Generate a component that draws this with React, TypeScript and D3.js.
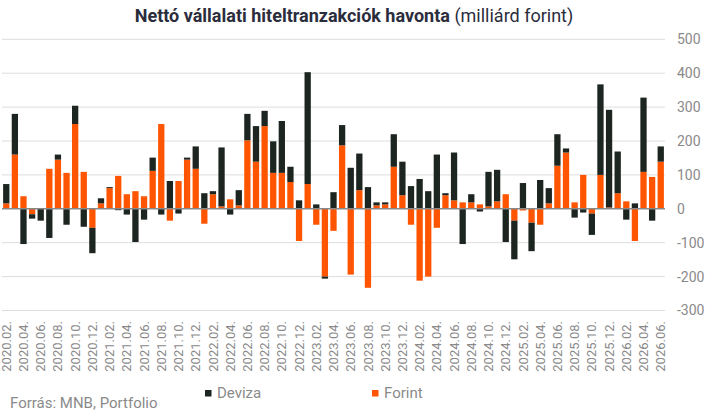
import React, { useEffect, useRef } from 'react';
import * as d3 from 'd3';

// havi adatok 2020.02 - 2026.06 (milliárd forint)
const months: string[] = [];
for (let y = 2020; y <= 2026; y++) {
  for (let m = 1; m <= 12; m++) {
    if ((y === 2020 && m < 2) || (y === 2026 && m > 6)) continue;
    months.push(`${y}.${String(m).padStart(2, '0')}.`);
  }
}

const forint = [
  16, 160, 37, -16, 0, 118, 145, 106, 250, 109, -56, 16, 61, 97, 43, 52, 37, 112, 250, -35,
  82, 145, 118, -44, 43, 7, 28, 10, 202, 139, 244, 106, 106, 79, -95, 73, -47, -200, -65, 187,
  -194, 55, -233, 10, 13, 124, 40, -47, -212, -200, -56, 40, 25, 19, 19, 13, 7, 22, 43, -35,
  -5, -41, -47, 16, 127, 166, 19, 100, -14, 100, 4, 46, 22, -95, 109, 94, 139,
];

const deviza = [
  57, 120, -104, -13, -35, -86, 15, -47, 54, -53, -75, 15, 3, -4, -17, -98, -32, 39, -17, 82,
  -14, 6, 66, 46, 9, 174, -17, 45, 78, 105, 45, 93, 153, 45, 25, 330, 13, -6, 49, 60,
  121, 108, 64, 9, 6, 96, 99, 67, 88, 52, 160, 6, 141, -104, 24, -8, 102, 93, -98, -114,
  76, -84, 85, 45, 93, 12, -26, -11, -63, 267, 288, 123, -32, 16, 219, -35, 45,
];

const yTicks = [-300, -200, -100, 0, 100, 200, 300, 400, 500];

const colors: Record<string, string> = { forint: '#ff5400', deviza: '#1c2520' };

const App: React.FC = () => {
  const ref = useRef<SVGSVGElement>(null);

  useEffect(() => {
    const svg = d3.select(ref.current);
    svg.selectAll('*').remove();

    const x = d3.scaleBand<string>().domain(months).range([2, 665]).paddingInner(0.27).paddingOuter(0.13);
    const y = d3.scaleLinear().domain([-300, 500]).range([310.5, 39.3]);

    const rows = months.map((m, i) => ({ month: m, forint: forint[i], deviza: deviza[i] }));
    const series = d3
      .stack<any>()
      .keys(['forint', 'deviza'])
      .offset(d3.stackOffsetDiverging)(rows);

    // rács
    svg
      .append('g')
      .selectAll('line')
      .data(yTicks.filter((t) => t !== 0))
      .enter()
      .append('line')
      .attr('x1', 2)
      .attr('x2', 665)
      .attr('y1', (d) => y(d))
      .attr('y2', (d) => y(d))
      .attr('stroke', '#dddddd')
      .attr('stroke-width', 1);

    svg
      .append('g')
      .selectAll('text')
      .data(yTicks)
      .enter()
      .append('text')
      .attr('x', 677)
      .attr('y', (d) => y(d))
      .attr('dy', '0.35em')
      .attr('font-size', 14)
      .attr('fill', '#8a8a8a')
      .text((d) => String(d));

    // oszlopok
    svg
      .append('g')
      .selectAll('g')
      .data(series)
      .enter()
      .append('g')
      .attr('fill', (s) => colors[s.key])
      .selectAll('rect')
      .data((s) => s)
      .enter()
      .append('rect')
      .attr('x', (d) => x(d.data.month) || 0)
      .attr('width', x.bandwidth())
      .attr('y', (d) => y(Math.max(d[0], d[1])))
      .attr('height', (d) => Math.abs(y(d[0]) - y(d[1])));

    svg
      .append('line')
      .attr('x1', 2)
      .attr('x2', 665)
      .attr('y1', y(0))
      .attr('y2', y(0))
      .attr('stroke', '#888888')
      .attr('stroke-width', 1.5);

    // x tengely feliratok
    svg
      .append('g')
      .selectAll('text')
      .data(months.filter((_, i) => i % 2 === 0))
      .enter()
      .append('text')
      .attr('transform', (d) => `translate(${(x(d) || 0) + x.bandwidth() / 2},321) rotate(-90)`)
      .attr('text-anchor', 'end')
      .attr('dy', '0.35em')
      .attr('font-size', 13)
      .attr('fill', '#8a8a8a')
      .text((d) => d);

    // cím
    const title = svg
      .append('text')
      .attr('x', 354)
      .attr('y', 22)
      .attr('text-anchor', 'middle')
      .attr('font-size', 18)
      .attr('fill', '#2b2d3c');
    title.append('tspan').attr('font-weight', 'bold').text('Nettó vállalati hiteltranzakciók havonta');
    title.append('tspan').text(' (milliárd forint)');

    // jelmagyarázat
    const legend = [
      { key: 'deviza', label: 'Deviza', x: 205 },
      { key: 'forint', label: 'Forint', x: 372 },
    ];
    const lg = svg.append('g').selectAll('g').data(legend).enter().append('g');
    lg.append('rect')
      .attr('x', (d) => d.x)
      .attr('y', 390)
      .attr('width', 6.5)
      .attr('height', 6.5)
      .attr('fill', (d) => colors[d.key]);
    lg.append('text')
      .attr('x', (d) => d.x + 12)
      .attr('y', 398)
      .attr('font-size', 15)
      .attr('fill', '#8a8a8a')
      .text((d) => d.label);

    svg
      .append('text')
      .attr('x', 10)
      .attr('y', 408)
      .attr('font-size', 15)
      .attr('fill', '#8a8a8a')
      .text('Forrás: MNB, Portfolio');
  }, []);

  return (
    <svg
      ref={ref}
      width={718}
      height={415}
      style={{ position: 'absolute', left: 0, top: 0, background: '#fff', fontFamily: 'Roboto, sans-serif' }}
    />
  );
};

export default App;
